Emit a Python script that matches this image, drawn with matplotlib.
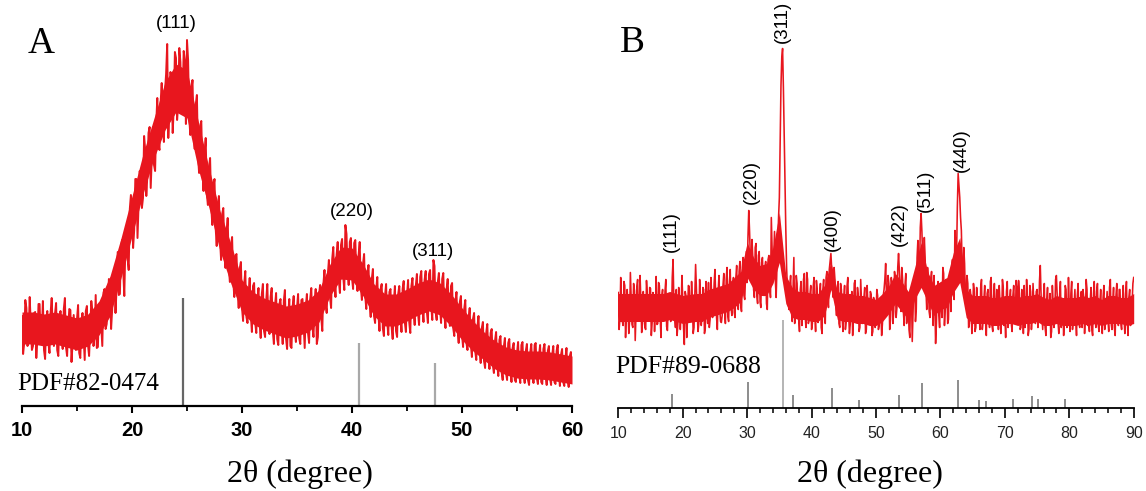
import numpy as np
import matplotlib
matplotlib.use('Agg')
import matplotlib.pyplot as plt
from matplotlib.ticker import MultipleLocator

# ---- panel A: amorphous-like pattern, 10-60 deg ----
# readings at 10.0, 10.2, ... 60.0
a_start, a_step = 10.0, 0.2
a_int = [
    90, 63, 98, 70, 81, 60, 94, 67, 102, 73, 56, 85, 63, 93, 74, 92, 56, 85, 68, 97,
    59, 79, 96, 63, 69, 87, 53, 82, 69, 95, 61, 77, 95, 69, 58, 98, 81, 113, 77, 102,
    117, 97, 131, 118, 111, 158, 136, 162, 147, 197, 199, 176, 227, 202, 224, 208, 256, 231, 279, 250,
    241, 282, 261, 303, 286, 315, 362, 297, 322, 300, 348, 301, 344, 310, 346, 366, 289, 316, 276, 302,
    250, 280, 236, 252, 212, 238, 200, 219, 179, 198, 166, 192, 157, 173, 138, 160, 126, 150, 117, 138,
    98, 122, 89, 112, 91, 120, 83, 107, 84, 112, 75, 105, 84, 109, 75, 100, 67, 102, 81, 105,
    68, 92, 60, 99, 75, 98, 68, 106, 82, 99, 73, 107, 79, 101, 62, 111, 89, 122, 102, 131,
    109, 147, 125, 151, 126, 161, 130, 181, 136, 164, 128, 163, 131, 151, 119, 142, 110, 131, 103, 127,
    90, 117, 92, 117, 78, 110, 84, 114, 79, 103, 75, 112, 90, 117, 84, 111, 84, 120, 94, 120,
    93, 129, 98, 126, 95, 132, 100, 146, 94, 124, 98, 127, 90, 117, 93, 120, 78, 105, 76, 104,
    71, 97, 63, 87, 62, 87, 55, 79, 56, 78, 45, 73, 48, 73, 41, 65, 43, 66, 34, 59,
    33, 63, 37, 58, 26, 53, 31, 61, 33, 55, 26, 53, 35, 61, 28, 50, 24, 57, 31, 55,
    28, 51, 24, 55, 33, 51, 24, 48, 27, 50, 30,
]
# readings in between, at 10.1, 10.3, ... 59.9
a_mid = [
    52, 106, 60, 109, 56, 93, 48, 102, 64, 105, 47, 95, 53, 108, 60, 103, 50, 95, 57, 108,
    50, 97, 44, 91, 56, 101, 48, 93, 46, 100, 50, 105, 60, 111, 59, 101, 60, 117, 82, 127,
    77, 129, 93, 154, 112, 166, 110, 174, 136, 211, 158, 227, 168, 235, 198, 270, 210, 273, 218, 279,
    235, 308, 256, 323, 264, 332, 268, 334, 273, 354, 286, 358, 294, 355, 282, 346, 271, 326, 257, 311,
    233, 285, 215, 268, 201, 248, 181, 227, 160, 210, 146, 198, 138, 188, 124, 169, 109, 152, 98, 144,
    85, 135, 83, 128, 74, 123, 73, 118, 68, 122, 69, 122, 72, 118, 62, 113, 61, 107, 62, 116,
    57, 107, 58, 110, 64, 112, 62, 107, 58, 112, 63, 118, 69, 117, 69, 121, 75, 136, 93, 146,
    98, 159, 109, 164, 113, 167, 116, 172, 121, 168, 117, 166, 115, 164, 106, 152, 97, 141, 89, 137,
    83, 129, 75, 122, 70, 122, 71, 117, 67, 120, 69, 120, 74, 125, 74, 126, 73, 128, 81, 132,
    81, 135, 84, 135, 83, 136, 86, 140, 86, 133, 83, 133, 78, 127, 80, 123, 70, 114, 63, 110,
    59, 106, 56, 98, 49, 93, 46, 90, 43, 84, 38, 82, 37, 77, 33, 74, 30, 70, 26, 68,
    26, 67, 24, 63, 24, 64, 23, 64, 23, 62, 21, 62, 23, 63, 22, 61, 22, 62, 21, 60,
    21, 60, 22, 61, 20, 57, 20, 58, 19, 54,
]
# solid core of the noisy band, read every 1 deg (10..60)
a_band_lo = [62, 62, 60, 62, 59, 56, 60, 71, 90, 128, 170, 212, 248, 276, 294, 288, 238, 198, 155, 122,
             94, 82, 76, 72, 68, 70, 74, 84, 110, 127, 126, 110, 90, 80, 80, 85, 91, 95, 91, 80,
             66, 55, 46, 37, 31, 28, 27, 27, 26, 24, 22]
a_band_hi = [94, 94, 92, 94, 91, 88, 92, 105, 130, 168, 210, 252, 288, 324, 342, 336, 286, 238, 195, 162,
             126, 114, 108, 104, 100, 102, 106, 116, 142, 159, 158, 142, 122, 112, 112, 117, 123, 127, 123, 112,
             98, 85, 74, 65, 59, 56, 55, 55, 54, 52, 50]
a_ref_pos = [24.6, 40.6, 47.5]
a_ref_h = [108, 63, 43]
a_hkl = ['(111)', '(220)', '(311)']
a_hkl_pos = [(24.0, 383), (40.0, 195), (47.4, 154)]

# ---- panel B: spinel ferrite pattern, 10-90 deg ----
# readings at 10.0, 10.25, ... 90.0
b_start, b_step = 10.0, 0.25
b_int = [
    115, 88, 106, 82, 122, 92, 103, 86, 110, 80, 117, 95, 128, 89, 108, 84,
    104, 78, 113, 93, 119, 85, 109, 97, 83, 125, 90, 112, 94, 116, 81, 102,
    114, 88, 148, 91, 118, 84, 110, 96, 108, 63, 112, 90, 121, 86, 104, 80,
    143, 95, 84, 110, 92, 118, 79, 103, 125, 88, 112, 94, 138, 90, 116, 98,
    85, 122, 96, 128, 91, 126, 100, 118, 95, 130, 104, 136, 102, 140, 112, 132,
    125, 197, 150, 168, 118, 160, 112, 152, 106, 145, 118, 138, 104, 148, 120, 190,
    126, 176, 110, 165, 210, 322, 359, 272, 178, 118, 98, 132, 86, 150, 95, 124,
    88, 118, 82, 128, 92, 135, 84, 113, 78, 120, 94, 127, 85, 112, 80, 118,
    92, 130, 108, 138, 154, 125, 140, 102, 118, 84, 124, 90, 110, 78, 121, 95,
    83, 116, 92, 127, 88, 112, 80, 106, 94, 120, 78, 102, 86, 113, 76, 104,
    90, 112, 82, 98, 84, 118, 144, 96, 124, 88, 118, 96, 128, 100, 154, 120,
    140, 96, 122, 84, 108, 70, 116, 94, 130, 98, 167, 132, 194, 150, 170, 118,
    140, 96, 128, 100, 132, 64, 118, 92, 124, 90, 134, 98, 118, 88, 126, 140,
    122, 177, 150, 234, 210, 177, 120, 144, 100, 124, 84, 110, 88, 117, 80, 104,
    96, 120, 78, 108, 86, 114, 92, 126, 82, 110, 96, 118, 78, 104, 88, 120,
    92, 116, 80, 108, 84, 112, 98, 127, 86, 114, 80, 106, 122, 88, 110, 78,
    116, 92, 104, 84, 118, 90, 142, 96, 110, 80, 108, 88, 114, 76, 104, 92,
    132, 86, 112, 80, 106, 90, 118, 82, 100, 114, 78, 104, 88, 112, 84, 108,
    80, 110, 92, 118, 86, 106, 78, 112, 90, 116, 82, 104, 94, 110, 78, 100,
    88, 120, 84, 106, 80, 112, 92, 118, 84, 106, 90, 114, 86, 110, 82, 104,
    130,
]
# readings in between, at 10.125, 10.375, ... 89.875
b_mid = [
    78, 130, 86, 126, 70, 118, 74, 135, 83, 124, 67, 121, 88, 132, 75, 116,
    80, 127, 88, 120, 72, 115, 76, 131, 84, 122, 70, 118, 90, 128, 77, 114,
    86, 130, 104, 80, 72, 120, 78, 132, 80, 116, 70, 122, 88, 126, 74, 112,
    118, 76, 128, 82, 120, 74, 126, 84, 80, 130, 90, 124, 110, 78, 132, 86,
    92, 134, 84, 140, 86, 138, 92, 130, 90, 142, 98, 146, 96, 150, 108, 156,
    170, 176, 128, 150, 110, 164, 104, 156, 100, 150, 112, 146, 98, 152, 110, 160,
    150, 128, 140, 190, 270, 350, 320, 220, 140, 104, 122, 96, 120, 84, 132, 90,
    76, 126, 94, 134, 80, 128, 88, 122, 84, 130, 76, 118, 90, 124, 74, 128,
    84, 136, 100, 146, 138, 110, 128, 92, 126, 80, 118, 76, 122, 86, 130, 74,
    104, 72, 124, 88, 120, 76, 128, 84, 110, 74, 122, 88, 116, 72, 110, 80,
    118, 78, 106, 72, 112, 128, 110, 132, 78, 130, 84, 136, 90, 140, 136, 96,
    128, 82, 134, 92, 78, 118, 66, 124, 86, 150, 142, 180, 176, 136, 150, 98,
    128, 90, 136, 82, 110, 84, 126, 80, 100, 140, 82, 128, 84, 130, 96, 148,
    108, 160, 200, 222, 190, 140, 160, 110, 132, 80, 118, 74, 124, 76, 120, 92,
    78, 128, 86, 122, 72, 118, 80, 130, 76, 124, 84, 112, 122, 74, 128, 82,
    70, 126, 88, 118, 76, 122, 84, 120, 127, 78, 118, 74, 80, 128, 72, 122,
    78, 124, 86, 116, 80, 126, 112, 78, 124, 72, 120, 84, 70, 122, 80, 128,
    112, 74, 126, 88, 72, 122, 80, 130, 76, 126, 88, 118, 72, 124, 80, 116,
    118, 74, 128, 82, 76, 120, 72, 126, 80, 124, 76, 118, 74, 122, 84, 116,
    76, 128, 78, 120, 72, 124, 82, 118, 78, 122, 74, 126, 72, 118, 84, 124,
]
# solid core of the noisy band, read every 1 deg (10..90)
b_band_lo = [86, 86, 86, 86, 86, 86, 86, 86, 88, 86, 84, 85, 86, 86, 90, 92, 94, 96, 100, 106,
             130, 118, 112, 112, 124, 145, 104, 90, 88, 88, 86, 86, 92, 118, 88, 86, 86, 84, 84, 82,
             82, 86, 94, 104, 96, 88, 108, 120, 106, 92, 98, 100, 115, 125, 90, 84, 84, 84, 82, 82,
             84, 84, 82, 84, 84, 86, 82, 82, 84, 82, 82, 82, 84, 82, 84, 82, 84, 84, 84, 82, 84]
b_band_hi = [114, 114, 114, 114, 114, 114, 114, 114, 116, 114, 112, 113, 114, 114, 118, 120, 122, 124, 130, 136,
             165, 150, 142, 144, 160, 195, 132, 120, 116, 116, 114, 114, 122, 146, 116, 114, 114, 112, 112, 110,
             108, 114, 122, 134, 126, 116, 140, 165, 136, 122, 126, 130, 155, 170, 118, 112, 112, 112, 110, 110,
             112, 112, 110, 112, 112, 114, 110, 108, 112, 110, 110, 110, 112, 110, 112, 108, 112, 112, 110, 110, 114]
b_ref_pos = [18.4, 30.1, 35.5, 37.1, 43.1, 47.3, 53.6, 57.1, 62.7, 66.0, 67.0, 71.2, 74.2, 75.2, 79.3]
b_ref_h = [14, 26, 88, 13, 20, 8, 13, 25, 28, 8, 7, 9, 12, 9, 9]
b_hkl = ['(111)', '(220)', '(311)', '(400)', '(422)', '(511)', '(440)']
b_hkl_pos = [(18.3, 176), (30.7, 226), (35.5, 386), (43.2, 178), (53.7, 183), (57.6, 217), (63.2, 257)]

serif = 'Liberation Serif'
sans = 'Liberation Sans'
red = '#e8161e'


def merged(start, step, main, mid):
    # put the in-between readings back in scan order
    x = np.concatenate([start + step * np.arange(len(main)), start + step * (np.arange(len(mid)) + 0.5)])
    y = np.concatenate([main, mid])
    order = np.argsort(x)
    return x[order], y[order]


fig = plt.figure(figsize=(11.46, 4.91), dpi=100)

# ---------------- panel A ----------------
axA = fig.add_axes([22 / 1146, 85 / 491, 550 / 1146, 370 / 491])
xa, ya = merged(a_start, a_step, a_int, a_mid)
axA.fill_between(np.arange(10, 61), a_band_lo, a_band_hi, color=red, lw=0)
axA.plot(xa, ya, color=red, lw=1.4)
for i, (p, h) in enumerate(zip(a_ref_pos, a_ref_h)):
    axA.vlines(p, 0, h, color='#666666' if i == 0 else '#a8a8a8', lw=1.6)
for lab, (x, y) in zip(a_hkl, a_hkl_pos):
    axA.text(x, y, lab, family=sans, fontsize=13.5, ha='center', va='center', clip_on=False)
axA.text(9.6, 16, 'PDF#82-0474', family=serif, fontsize=18, va='baseline')

axA.set_xlim(10, 60)
axA.set_ylim(0, 370)
for s in ['left', 'top', 'right']:
    axA.spines[s].set_visible(False)
axA.spines['bottom'].set_linewidth(1.6)
axA.set_yticks([])
axA.xaxis.set_major_locator(MultipleLocator(10))
axA.xaxis.set_minor_locator(MultipleLocator(5))
axA.tick_params(axis='x', which='major', length=5, width=1.5, pad=6, labelsize=14.5)
axA.tick_params(axis='x', which='minor', length=3.6, width=1.3)
for t in axA.get_xticklabels():
    t.set_fontfamily(sans)
    t.set_fontweight('bold')
axA.patch.set_visible(False)

# ---------------- panel B ----------------
axB = fig.add_axes([618.3 / 1146, 83.5 / 491, 515.4 / 1146, 371.5 / 491])
xb, yb = merged(b_start, b_step, b_int, b_mid)
axB.fill_between(np.arange(10, 91), b_band_lo, b_band_hi, color=red, lw=0)
axB.plot(xb, yb, color=red, lw=1.15)
for p, h in zip(b_ref_pos, b_ref_h):
    axB.vlines(p, 0, h, color='#b4b4b4' if p == 35.5 else '#8c8c8c', lw=1.4)
for lab, (x, y) in zip(b_hkl, b_hkl_pos):
    axB.text(x, y, lab, family=sans, fontsize=13.5, rotation=90, ha='center', va='center', clip_on=False)
axB.text(9.5, 34.5, 'PDF#89-0688', family=serif, fontsize=18.5, va='baseline', clip_on=False)

axB.set_xlim(10, 90)
axB.set_ylim(0, 371.5)
for s in ['left', 'top', 'right']:
    axB.spines[s].set_visible(False)
axB.spines['bottom'].set_linewidth(1.3)
axB.set_yticks([])
axB.xaxis.set_major_locator(MultipleLocator(10))
axB.xaxis.set_minor_locator(MultipleLocator(2))
axB.tick_params(axis='x', which='major', length=7.2, width=1.2, pad=6, labelsize=11.5, labelcolor='#222222')
axB.tick_params(axis='x', which='minor', length=3.6, width=1.1)
for t in axB.get_xticklabels():
    t.set_fontfamily(sans)
axB.patch.set_visible(False)

# panel letters and axis titles
fig.text(28 / 1146, 1 - 53 / 491, 'A', family=serif, fontsize=27, va='baseline')
fig.text(620 / 1146, 1 - 52 / 491, 'B', family=serif, fontsize=27, va='baseline')
fig.text(300 / 1146, 1 - 482 / 491, '2θ (degree)', family=serif, fontsize=23, ha='center', va='baseline')
fig.text(870 / 1146, 1 - 482 / 491, '2θ (degree)', family=serif, fontsize=23, ha='center', va='baseline')

fig.savefig('out.png', dpi=100)
